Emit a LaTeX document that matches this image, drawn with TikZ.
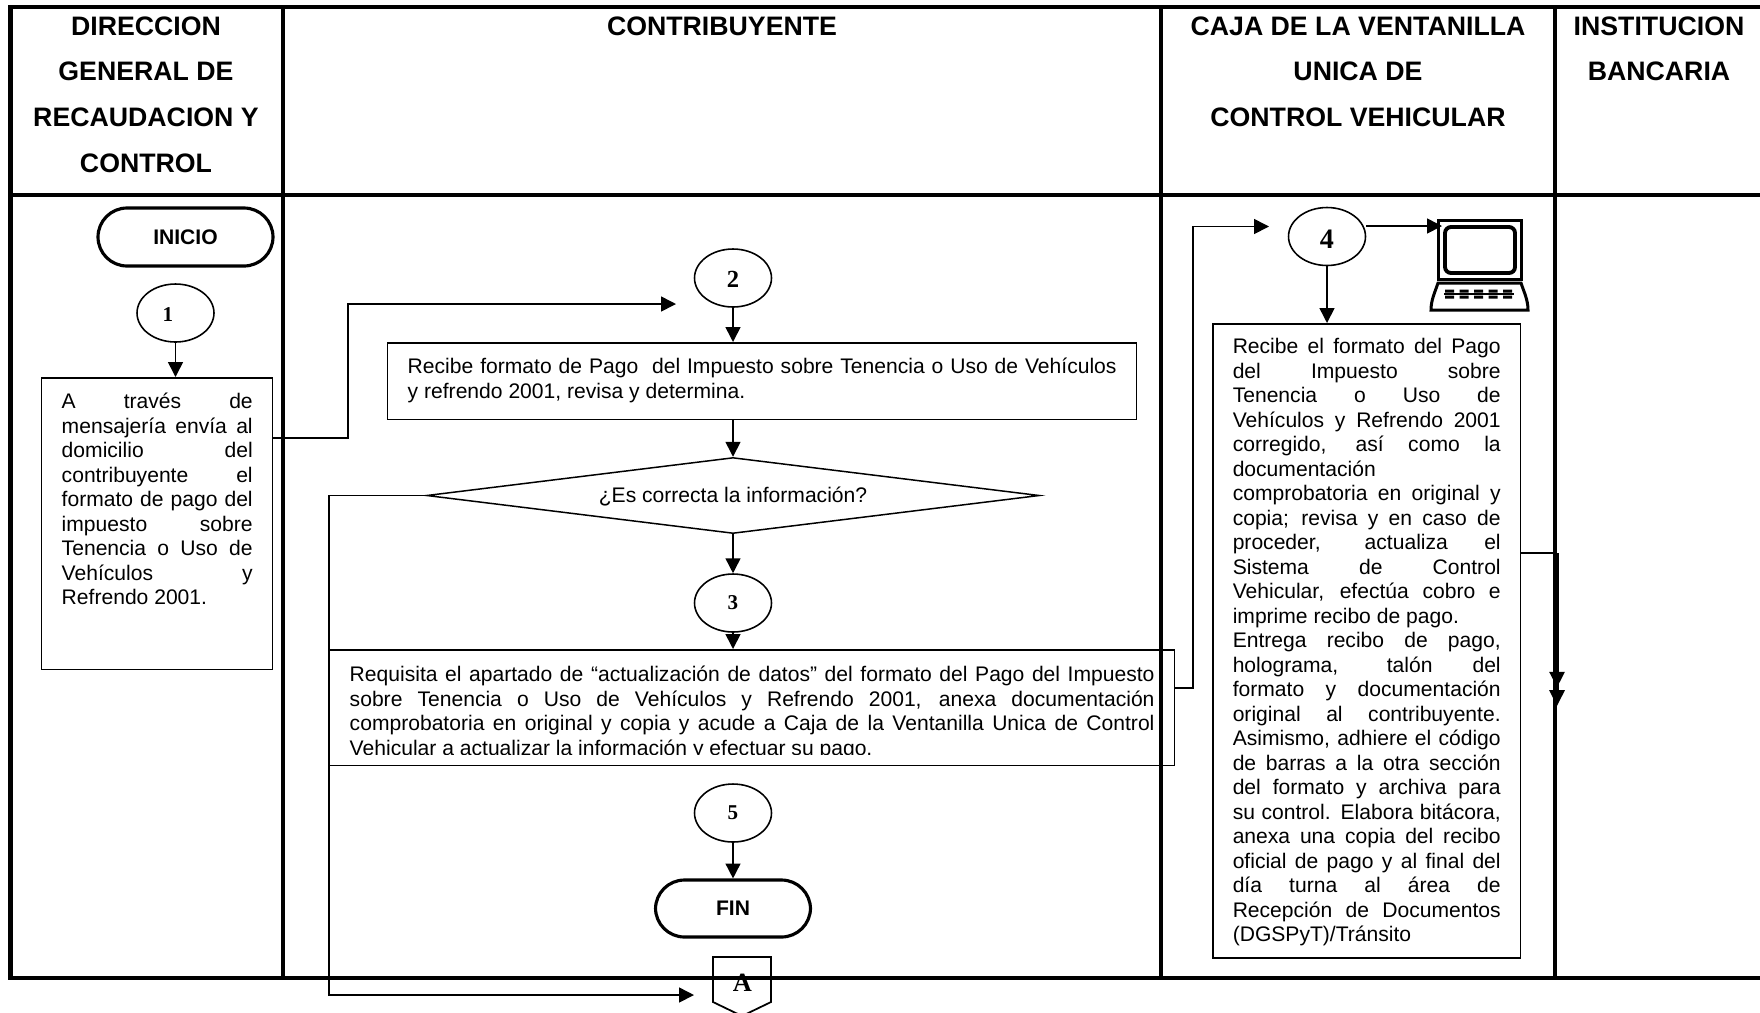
\documentclass[tikz,border=0pt]{standalone}
\usepackage{fontspec}
\setmainfont{Liberation Sans}
\newfontfamily\numfont{Liberation Serif}
\usetikzlibrary{arrows.meta,shapes.geometric}
\tolerance=9999
\hyphenpenalty=10000
\hbadness=10000
\tikzset{
  >={Triangle[length=8.5pt,width=8.5pt]},
  conn/.style={line width=0.9pt},
  frameline/.style={line width=2.3pt},
  heading/.style={anchor=north,inner sep=0pt,align=center,font=\fontsize{15.2}{26.1}\selectfont\bfseries},
  term/.style={draw,line width=1.8pt,rounded corners=0.58cm,inner sep=0pt,font=\fontsize{12}{14}\selectfont\bfseries},
  mark1/.style={draw,ellipse,line width=0.9pt,inner sep=0pt,minimum width=1.54cm,minimum height=1.16cm,font=\fontsize{12}{14}\selectfont\numfont\bfseries},
  procbox/.style={draw,anchor=north west,line width=0.85pt,inner xsep=0.40cm,inner ysep=0pt,align=justify,font=\fontsize{12}{13.95}\selectfont},
}

\begin{document}
\begin{tikzpicture}[x=0.02cm,y=-0.02cm]
\useasboundingbox (0,0) rectangle (1760,1012);
\clip (0,0) rectangle (1760,1012);

%Column titles
\node (colrec) at (146,16)[heading] {DIRECCION\\GENERAL DE\\RECAUDACION Y\\CONTROL};
\node (colcon) at (722,16)[heading] {CONTRIBUYENTE};
\node (colcaj) at (1358,16)[heading] {CAJA DE LA VENTANILLA\\UNICA DE\\CONTROL VEHICULAR};
\node (colban) at (1659,16)[heading] {INSTITUCION\\BANCARIA};

%Start and first step
\node (inicio) at (185.5,237)[term,minimum width=3.5cm,minimum height=1.16cm] {INICIO};
\node (m1) at (175.5,313)[mark1] {\hspace*{-0.3cm}\raisebox{-0.7pt}[\height][\depth]{1}};
\node (box1) at (41,377)[procbox,text width=3.82cm,minimum height=5.84cm] {A través de\linebreak
mensajería envía al\linebreak domicilio del\linebreak contribuyente el\linebreak
formato de pago del\linebreak impuesto sobre\linebreak Tenencia o Uso de\linebreak
Vehículos y\linebreak Refrendo 2001.\par\vspace*{14pt}\mbox{}};
\draw[conn,->] (m1.south) -- (m1.south |- box1.north);

%Contribuyente column
\node (m2) at (733,278)[mark1,font=\fontsize{14}{14}\selectfont\numfont\bfseries] {\raisebox{-0.7pt}[\height][\depth]{2}};
\node (box2) at (387,342)[procbox,text width=14.18cm,minimum height=1.54cm] {Recibe formato de Pago\ \ del Impuesto sobre Tenencia o Uso de Vehículos\linebreak
y refrendo 2001, revisa y determina.\rule[-3.7pt]{0pt}{0pt}};
\node (dec) at (733,495.5)[draw,diamond,line width=0.85pt,aspect=8,inner sep=0pt,minimum width=12.26cm,minimum height=1.52cm] {};
\node (dectxt) at (733,497)[inner sep=0pt,font=\fontsize{12}{14}\selectfont] {¿Es correcta la información?};
\node (m3) at (733,603)[mark1] {3};
\node (box3) at (329,649)[procbox,text width=16.1cm,minimum height=2.32cm] {\rule{0pt}{14.5pt}Requisita el apartado de “actualización de datos” del formato del Pago del Impuesto\linebreak
sobre Tenencia o Uso de Vehículos y Refrendo 2001, anexa documentación\linebreak
comprobatoria en original y copia y acude a Caja de la Ventanilla Unica de Control\linebreak
Vehicular a actualizar la información y efectuar su pago.};
\fill[white] (331,754.5) rectangle (1172,763.5);
\node (m5) at (733,813)[mark1] {5};
\node (fin) at (733,908.5)[term,minimum width=3.1cm,minimum height=1.14cm] {FIN};
\draw[line width=1pt] (713,957) -- (771,957) -- (771,1002) -- (742,1016) -- (713,1002) -- cycle;
\node (pagA) at (742.5,983)[inner sep=0pt,font=\fontsize{15}{15}\selectfont\numfont\bfseries] {A};

\coordinate (to2) at (676,304);
\coordinate (out1) at (272,438);
\coordinate (to4) at (1269,226.5);
\coordinate (out3) at (1174,688);
\coordinate (toA) at (694,995);
\draw[conn,->] (box1.east |- out1) -- (348,438) -- (348,304) -- (to2);
\draw[conn,->] (m2.south) -- (m2.south |- box2.north);
\draw[conn,->] (m2.south |- box2.south) -- (dec.north);
\draw[conn,->] (dec.south) -- (m3.north);
\draw[conn,->] (m3.south) -- (m3.south |- box3.north);
\draw[conn,->] (dec.west) -- (329,495.5) -- (329,995) -- (toA);
\draw[conn,->] (m5.south) -- (fin.north);
\draw[conn,->] (box3.east |- out3) -- (1193,688) -- (1193,226.5) -- (to4);

%Caja column
\node (m4) at (1327,236.5)[mark1,font=\fontsize{16}{16}\selectfont\numfont\bfseries] {\raisebox{-1.4pt}[\height][\depth]{4}};
\node (box4) at (1212,323)[procbox,text width=5.36cm,minimum height=12.69cm] {\rule{0pt}{10.2pt}Recibe el formato del Pago\linebreak
del Impuesto sobre\linebreak Tenencia o Uso de\linebreak Vehículos y Refrendo 2001\linebreak
corregido, así como la\linebreak documentación\\ comprobatoria en original y\linebreak
copia; revisa y en caso de\linebreak proceder, actualiza el\linebreak Sistema de Control\linebreak
Vehicular, efectúa cobro e\linebreak imprime recibo de pago.\\ Entrega recibo de pago,\linebreak
holograma, talón del\linebreak formato y documentación\linebreak original al contribuyente.\linebreak
Asimismo, adhiere el código\linebreak de barras a la otra sección\linebreak del formato y archiva para\linebreak
su control. Elabora bitácora,\linebreak anexa una copia del recibo\linebreak oficial de pago y al final del\linebreak
día turna al área de\linebreak Recepción de Documentos\linebreak (DGSPyT)/Tránsito};
\draw[conn,->] (m4.south) -- (m4.south |- box4.north);

%Computer
\coordinate (pc) at (1442,226);
\draw[line width=1.7pt] (1438,220) rectangle (1521,279);
\draw[line width=2.2pt,rounded corners=0.12cm] (1445,227) rectangle (1515,273);
\draw[line width=1.7pt] (1431,310) .. controls (1431,300) and (1435,292) .. (1438,283) -- (1521,283) .. controls (1524,292) and (1528,300) .. (1528,310) -- cycle;
\draw[line width=0.7pt] (1444,294) -- (1514,294);
\foreach \k in {0,...,4}
   \fill (1445+\k*14.5,289.5) rectangle +(9,3) (1445+\k*14.5,295.5) rectangle +(9,3);
\draw[conn,->] (1366,226) -- (pc);

%Exit to the bank
\coordinate (out4) at (1520,553);
\coordinate (tobank) at (1557,706);
\draw[conn] (box4.east |- out4) -- (tobank |- out4);
\draw[line width=1.7pt,-{Triangle[length=9pt,width=8.5pt,sep=1.5pt]Triangle[length=9pt,width=8.5pt]}] (tobank |- out4) -- (tobank);

%Frame
\foreach \x in {10.5,283,1161,1555}
   \draw[frameline] (\x,7) -- (\x,977.5);
\foreach \y in {7,195,977.5}
   \draw[frameline] (8,\y) -- (1760,\y);
\end{tikzpicture}
\end{document}
